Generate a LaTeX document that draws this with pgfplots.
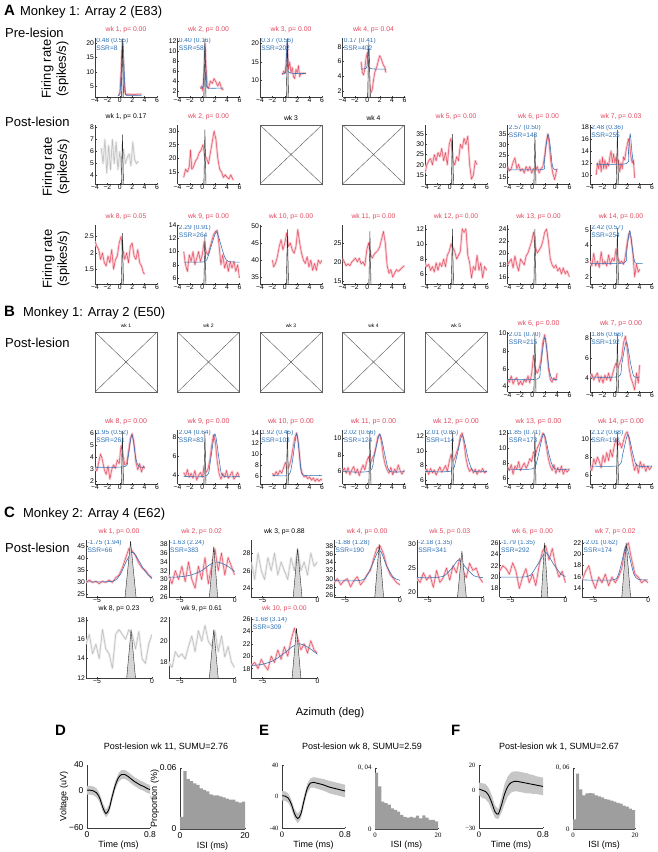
\documentclass[border=0pt]{standalone}
\usepackage{pgfplots}
\pgfplotsset{compat=1.18}
\usepackage{fontspec}
\setmainfont{Liberation Sans}
\newfontfamily\serifnum{Liberation Serif}
\definecolor{titlered}{RGB}{224,72,94}
\definecolor{linered}{RGB}{226,78,98}
\definecolor{bandred}{RGB}{250,206,212}
\definecolor{fitblue}{RGB}{44,112,182}
\definecolor{gline}{RGB}{186,186,186}
\definecolor{gband}{RGB}{236,236,236}
\definecolor{histgray}{RGB}{158,158,158}
\definecolor{boxgray}{RGB}{95,95,95}
\definecolor{axgray}{RGB}{60,60,60}
\newcommand{\tf}{\fontsize{6.8}{7}\selectfont}
\newcommand{\tfb}{\fontsize{5}{5}\selectfont}
\newcommand{\tft}{\fontsize{7}{7}\selectfont}
\newcommand{\ff}{\fontsize{6.6}{7.2}\selectfont}
\newcommand{\Rl}[1]{\addplot[draw=bandred,line width=2.4pt,line join=round] coordinates {#1};\addplot[draw=linered,line width=0.5pt,line join=round] coordinates {#1};}
\newcommand{\Gl}[1]{\addplot[draw=gband,line width=2.4pt,line join=round] coordinates {#1};\addplot[draw=gline,line width=0.5pt,line join=round] coordinates {#1};}
\newcommand{\Bf}[1]{\addplot[draw=fitblue,line width=0.55pt,smooth,tension=0.45] coordinates {#1};}
\newcommand{\Mk}[1]{\addplot[draw=black!85,fill=black!16,line width=0.4pt] coordinates {#1};}
\newcommand{\Fn}[2]{\node[anchor=north west,inner sep=0pt,font=\ff,text=fitblue,align=left] at (rel axis cs:0.02,1.0) {#1\\SSR=#2};}
\pgfplotsset{
 fr/.style={scale only axis, anchor=north west, axis lines*=left,
  axis line style={-,axgray,line width=0.4pt}, tick style={axgray,line width=0.35pt},
  major tick length=1.5pt, tick align=inside,
  every tick label/.append style={font=\tf, inner sep=0.8pt},
  /pgf/number format/assume math mode=true, scaled ticks=false,
  title style={font=\tf, at={(0.5,1)}, anchor=south, yshift=-1.5pt, inner sep=0pt}},
 aax/.style={fr, width=62pt, height=59pt, xmin=-4, xmax=6, xtick={-4,-2,0,2,4,6}, xticklabels={−4,−2,0,2,4,6}},
 bax/.style={aax, height=#1, title style={font=\tft}},
 cax/.style={fr, width=66pt, xmin=-6, xmax=0, xtick={-5,0}, xticklabels={−5,0}},
 sig/.style={title style={text=titlered}},
 wav/.style={scale only axis, anchor=north west, axis lines*=left, axis line style={-,axgray,line width=0.4pt},
  tick style={axgray,line width=0.35pt}, major tick length=1.5pt, tick align=inside,
  /pgf/number format/assume math mode=true, scaled ticks=false,
  label style={font=\fontsize{9}{9}\selectfont}, xlabel style={yshift=3pt}},
}
\newcommand{\Xb}[5]{\begin{axis}[scale only axis, anchor=north west, at={(#1pt,-#2pt)}, width=62pt, height=#3pt, xmin=0,xmax=1,ymin=0,ymax=1, ticks=none, axis line style={boxgray,line width=0.5pt}, title={#4}, title style={font=#5, at={(0.5,1)}, anchor=south, yshift=-1.5pt, inner sep=0pt}]
\addplot[boxgray,line width=0.45pt] coordinates {(0,0)(1,1)};
\addplot[boxgray,line width=0.45pt] coordinates {(0,1)(1,0)};
\end{axis}}
\newcommand{\FR}[2]{\node[rotate=90,align=center,font=\fontsize{13}{15}\selectfont,inner sep=0pt] at (#1pt,-#2pt) {Firing rate\\(spikes/s)};}
\begin{document}
\begin{tikzpicture}
\useasboundingbox (0,0) rectangle (658pt,-852pt);
% ---------- headings ----------
\node[anchor=west,inner sep=0pt] at (4pt,-12pt) {\fontsize{15}{15}\selectfont\bfseries A\hspace{5pt}\mdseries\fontsize{13}{13}\selectfont Monkey 1: Array 2 (E83)};
\node[anchor=west,inner sep=0pt,font=\fontsize{13}{13}\selectfont] at (5pt,-33pt) {Pre-lesion};
\FR{55}{69}
\node[anchor=west,inner sep=0pt,font=\fontsize{13}{13}\selectfont] at (5pt,-122pt) {Post-lesion};
\FR{56}{167}
\FR{56}{259}
\node[anchor=west,inner sep=0pt] at (4pt,-313pt) {\fontsize{15}{15}\selectfont\bfseries B\hspace{8pt}\mdseries\fontsize{13}{13}\selectfont Monkey 1: Array 2 (E50)};
\node[anchor=west,inner sep=0pt,font=\fontsize{13}{13}\selectfont] at (5pt,-343pt) {Post-lesion};
\node[anchor=west,inner sep=0pt] at (4pt,-514pt) {\fontsize{15}{15}\selectfont\bfseries C\hspace{8pt}\mdseries\fontsize{13}{13}\selectfont Monkey 2: Array 4 (E62)};
\node[anchor=west,inner sep=0pt,font=\fontsize{13}{13}\selectfont] at (5pt,-548pt) {Post-lesion};
% ================= A row 1 (pre-lesion) =================
\begin{axis}[aax, sig, at={(95pt,-38pt)}, ymin=1.2, ymax=21.7, ytick={5,10,15,20}, title={wk 1, p= 0.00}]
\Rl{(-0.2,2)(0,2.5)(0.2,10)(0.4,20)(0.6,12)(0.8,3)(1.0,2)(1.5,2.2)(2,2)(2.5,2.1)(3,2.2)(3.5,2.2)}
\Bf{(-0.3,1.8)(0,2)(0.2,8)(0.35,17)(0.48,20.5)(0.6,17)(0.75,8)(0.9,3)(1.1,1.8)(3.5,1.8)}
\Mk{(0.25,1.2)(0.42,21.5)(0.6,1.2)}
\Fn{0.48 (0.55)}{8}
\end{axis}
\begin{axis}[aax, sig, at={(177.5pt,-38pt)}, ymin=0.8, ymax=12.6, ytick={2,4,6,8,10,12}, title={wk 2, p= 0.00}]
\Rl{(-0.3,2.5)(-0.1,3)(0.1,2)(0.3,6)(0.45,11.5)(0.6,7)(0.8,3)(1.0,2.5)(1.3,4)(1.6,3.5)(1.9,4.5)(2.2,3.8)(2.5,3)(2.8,3.8)(3.1,2.5)(3.4,2.2)}
\Bf{(-0.3,2.6)(0.1,2.8)(0.25,6)(0.4,11)(0.55,7)(0.7,3.5)(0.9,2.6)(3.4,2.6)}
\Mk{(0.25,0.8)(0.42,12.4)(0.6,0.8)}
\Fn{0.40 (0.16)}{58}
\end{axis}
\begin{axis}[aax, sig, at={(260pt,-38pt)}, ymin=5.5, ymax=21.5, ytick={10,15,20}, title={wk 3, p= 0.00}]
\Rl{(-0.4,11.5)(-0.2,12.5)(0,12)(0.2,14)(0.4,20)(0.6,13)(0.8,15)(1,12)(1.2,13.5)(1.4,11)(1.6,10.5)(1.8,13)(2,12)(2.2,14)(2.4,11)(2.6,12)(2.8,11.8)(3,12)(3.2,12)(3.4,11.8)}
\Bf{(-0.4,11.9)(0.1,12)(0.25,16)(0.37,20.5)(0.5,16)(0.65,12.2)(3.4,11.9)}
\Mk{(0.25,5.5)(0.42,21.4)(0.6,5.5)}
\Fn{0.37 (0.56)}{202}
\end{axis}
\begin{axis}[aax, sig, at={(342.5pt,-38pt)}, ymin=1.2, ymax=9.2, ytick={2,4,6,8}, title={wk 4, p= 0.04}]
\Rl{(-1,6)(-0.8,4.5)(-0.6,4.2)(-0.4,5)(-0.2,6.5)(0,7.2)(0.2,5)(0.4,2.5)(0.6,1.8)(0.8,2.2)(1,3.5)(1.2,4.5)(1.4,5)(1.6,5.5)(1.8,6.2)(2,6.8)(2.2,6.5)(2.4,6)(2.6,5.5)(2.8,5.3)(3,4.5)}
\Bf{(-1,5)(-0.1,5.2)(0.05,7)(0.17,8)(0.3,6.5)(0.45,5.1)(3,5)}
\Mk{(0.05,1.2)(0.25,8.6)(0.5,1.2)}
\Fn{0.17 (0.41)}{402}
\end{axis}
% ================= A row 2 =================
\begin{axis}[aax, at={(95pt,-125pt)}, ymin=3.3, ymax=8.2, ytick={4,5,6,7,8}, title={wk 1, p= 0.17}]
\Gl{(-3,6.3)(-2.7,5)(-2.4,7)(-2.1,4.2)(-1.8,6.5)(-1.5,4.5)(-1.2,7)(-0.9,5)(-0.6,6.8)(-0.3,4.5)(0,6)(0.3,4.3)(0.6,6.2)(0.9,5)(1.2,5.5)(1.5,5.8)(1.8,4.8)(2.1,6.8)(2.4,5.3)(2.7,5)(3,5.2)}
\Mk{(0.25,3.3)(0.42,7.4)(0.6,3.3)}
\end{axis}
\begin{axis}[aax, sig, at={(177.5pt,-125pt)}, ymin=10.6, ymax=32.2, ytick={15,20,25,30}, title={wk 2, p= 0.00}]
\Rl{(-3,13)(-2.7,16)(-2.4,15)(-2.1,17)(-1.9,23)(-1.7,16)(-1.4,17)(-1.1,19)(-0.8,20)(-0.5,22)(-0.2,23)(0.1,25)(0.4,21)(0.7,20)(1.0,18)(1.3,22)(1.6,26)(1.9,30)(2.2,27)(2.5,20)(2.8,16)(3.1,15)(3.4,13)(3.7,14)(4,13)(4.3,12.5)(4.6,14)(5,12)}
\Mk{(0.25,10.6)(0.42,30.5)(0.6,10.6)}
\end{axis}
\Xb{260}{125}{59}{wk 3}{\tf}
\Xb{342.5}{125}{59}{wk 4}{\tf}
\begin{axis}[aax, sig, at={(425pt,-125pt)}, ymin=10.6, ymax=39.5, ytick={15,20,25,30,35}, title={wk 5, p= 0.00}]
\Rl{(-4,16)(-3.7,20)(-3.4,22)(-3.1,23)(-2.8,20)(-2.5,25)(-2.2,22)(-1.9,26)(-1.6,24)(-1.3,28)(-1,22)(-0.7,26)(-0.4,20)(-0.1,30)(0.2,33)(0.5,22)(0.8,20)(1.1,24)(1.4,22)(1.7,30)(2,28)(2.3,33)(2.6,30)(2.9,34)(3.2,20)(3.5,13)(3.8,15)(4.1,22)(4.4,20)}
\Mk{(0.25,10.6)(0.42,35)(0.6,10.6)}
\end{axis}
\begin{axis}[aax, sig, at={(507.5pt,-125pt)}, ymin=12, ymax=39, ytick={15,20,25,30,35}, title={wk 6, p= 0.00}]
\Rl{(-4,20)(-3.7,18)(-3.4,19)(-3.1,22)(-2.8,24)(-2.5,19)(-2.2,21)(-1.9,18)(-1.6,19)(-1.3,17)(-1,20)(-0.7,18)(-0.4,20)(-0.1,17)(0.2,19)(0.5,18)(0.8,20)(1.1,17)(1.4,19)(1.7,20)(2,25)(2.3,32)(2.5,35)(2.7,31)(3,22)(3.3,17)(3.6,14)(3.9,18)(4,19)}
\Bf{(-4,18.5)(1.6,18.6)(1.9,21)(2.2,29)(2.57,34.5)(2.9,29)(3.2,21)(3.5,18.8)(4,18.5)}
\Mk{(0.25,12)(0.42,35)(0.6,12)}
\Fn{2.57 (0.50)}{148}
\end{axis}
\begin{axis}[aax, sig, at={(590pt,-125pt)}, ymin=8.5, ymax=18.3, ytick={10,12,14,16,18}, title={wk 7, p= 0.03}]
\Rl{(-3,10)(-2.8,12)(-2.6,11)(-2.4,12.5)(-2.2,10.5)(-2,13)(-1.8,11)(-1.6,12.5)(-1.4,11)(-1.2,12)(-1,11.5)(-0.8,13)(-0.6,14)(-0.4,12)(-0.2,13.5)(0,12)(0.2,13)(0.4,11)(0.6,12.5)(0.8,10.5)(1,12)(1.2,11)(1.4,13)(1.6,12.5)(1.8,14)(2,15)(2.2,16)(2.4,15)(2.6,13)(2.8,12)(3,12.5)(3.2,9.5)}
\Bf{(-3,11.8)(1.9,11.9)(2.2,14)(2.48,16.8)(2.75,14)(3,12)(3.2,11.8)}
\Mk{(0.25,8.5)(0.42,17.5)(0.6,8.5)}
\Fn{2.48 (0.36)}{255}
\end{axis}
% ================= A row 3 =================
\begin{axis}[aax, sig, at={(95pt,-225pt)}, ymin=1.05, ymax=2.85, ytick={1.5,2,2.5}, title={wk 8, p= 0.05}]
\Rl{(-4,2.35)(-3.7,2.2)(-3.4,2.1)(-3.1,1.8)(-2.8,2)(-2.5,1.7)(-2.2,1.6)(-1.9,1.9)(-1.6,1.7)(-1.3,2.1)(-1,1.5)(-0.7,1.8)(-0.4,1.9)(-0.1,2.3)(0.2,2.5)(0.5,2.1)(0.8,1.8)(1.1,2)(1.4,1.7)(1.7,2.2)(2,2.3)(2.3,1.9)(2.6,1.8)(2.9,2.1)(3.2,1.7)(3.5,1.6)(3.8,1.4)(4,1.35)}
\Mk{(0.25,1.05)(0.42,2.6)(0.6,1.05)}
\end{axis}
\begin{axis}[aax, sig, at={(177.5pt,-225pt)}, ymin=5.1, ymax=14, ytick={6,8,10,12,14}, title={wk 9, p= 0.00}]
\Rl{(-3,10)(-2.7,8)(-2.4,7)(-2.1,9.5)(-1.8,8.5)(-1.5,10)(-1.2,8)(-0.9,9)(-0.6,10)(-0.3,8.5)(0,9.5)(0.3,11.5)(0.6,10)(0.9,9.5)(1.2,10.5)(1.5,11.5)(1.8,12.5)(2.1,13)(2.4,13.2)(2.7,11)(3,8)(3.3,9.5)(3.6,7.5)(3.9,8.5)(4.2,7)(4.5,8.5)(4.8,7.5)(5.1,8.5)(5.4,7)(5.7,8)(6,6)}
\Bf{(-3,8.4)(0.3,8.45)(0.9,9.2)(1.5,11)(2.29,13)(3.0,11)(3.6,9.2)(4.2,8.5)(6,8.4)}
\Mk{(0.25,5.1)(0.42,12.5)(0.6,5.1)}
\Fn{2.29 (0.91)}{264}
\end{axis}
\begin{axis}[aax, sig, at={(260pt,-225pt)}, ymin=33, ymax=50.3, ytick={35,40,45,50}, title={wk 10, p= 0.00}]
\Rl{(-2,40)(-1.8,38)(-1.5,39)(-1.2,41)(-0.9,44)(-0.6,46)(-0.3,43)(0,45)(0.3,48)(0.6,44)(0.9,45)(1.2,43)(1.5,42)(1.8,44)(2.1,49)(2.4,45)(2.7,42)(3,40)(3.3,39)(3.6,41)(3.9,38)(4.2,40)(4.5,37)(4.8,39)(5.1,37)(5.4,40)(5.7,39)(6,40)}
\Mk{(0.25,33)(0.42,49)(0.6,33)}
\end{axis}
\begin{axis}[aax, sig, at={(342.5pt,-225pt)}, ymin=14.2, ymax=29.7, ytick={15,20,25}, title={wk 11, p= 0.00}]
\Rl{(-4,21)(-3.7,20)(-3.4,19)(-3.1,19.5)(-2.8,19)(-2.5,20)(-2.2,20.5)(-1.9,21)(-1.6,20)(-1.3,21)(-1,19.5)(-0.7,20)(-0.4,19)(-0.1,23)(0.2,25)(0.5,22)(0.8,21)(1.1,22)(1.4,22.5)(1.7,23)(2,24)(2.3,26)(2.6,28)(2.9,25)(3.2,19)(3.5,17)(3.8,18)(4.1,16)(4.4,17)(4.7,18)(5,17.5)(5.3,18)(5.6,18.5)(6,19)}
\Mk{(0.25,14.2)(0.42,28)(0.6,14.2)}
\end{axis}
\begin{axis}[aax, sig, at={(425pt,-225pt)}, ymin=4.7, ymax=12.5, ytick={6,8,10,12}, title={wk 12, p= 0.00}]
\Rl{(-4,7.5)(-3.7,7)(-3.4,7.3)(-3.1,6.5)(-2.8,7)(-2.5,6.3)(-2.2,7.5)(-1.9,6.5)(-1.6,7.5)(-1.3,7)(-1,8)(-0.7,7)(-0.4,8.5)(-0.1,9)(0.2,10)(0.5,9.5)(0.8,9)(1.1,8)(1.4,8.5)(1.7,9)(2,12)(2.3,11.5)(2.6,12)(2.9,8.5)(3.2,7.5)(3.5,5.5)(3.8,7)(4.1,6.5)(4.4,8.5)(4.7,6.5)(5,7.5)(5.3,5.5)(5.6,7)(6,6.5)}
\Mk{(0.25,4.7)(0.42,12)(0.6,4.7)}
\end{axis}
\begin{axis}[aax, sig, at={(507.5pt,-225pt)}, ymin=14.8, ymax=24.7, ytick={16,18,20,22,24}, title={wk 13, p= 0.00}]
\Rl{(-4,18)(-3.7,18.5)(-3.4,19)(-3.1,17.5)(-2.8,19.5)(-2.5,18)(-2.2,17)(-1.9,19)(-1.6,18.5)(-1.3,18)(-1,19.5)(-0.7,20)(-0.4,21)(-0.1,22)(0.2,23.5)(0.5,21)(0.8,20)(1.1,20.5)(1.4,21)(1.7,22)(2,23.5)(2.3,24)(2.6,22)(2.9,19)(3.2,18)(3.5,17.5)(3.8,18)(4.1,17)(4.4,17.5)(4.7,16.5)(5,17.5)(5.3,16.5)(5.6,17)(6,16)}
\Mk{(0.25,14.8)(0.42,24)(0.6,14.8)}
\end{axis}
\begin{axis}[aax, sig, at={(590pt,-225pt)}, ymin=1.55, ymax=5.3, ytick={2,3,4,5}, title={wk 14, p= 0.00}]
\Rl{(-4,3)(-3.7,2.7)(-3.4,3.5)(-3.1,2.7)(-2.8,3)(-2.5,2.6)(-2.2,3.6)(-1.9,2.8)(-1.6,3)(-1.3,2.7)(-1,3.4)(-0.7,2.8)(-0.4,3.2)(-0.1,3)(0.2,3.8)(0.5,3.2)(0.8,2.9)(1.1,3)(1.4,2.8)(1.7,3.3)(2,4.2)(2.3,4.8)(2.6,4.5)(2.9,3.6)(3.2,2)(3.5,2.8)(3.8,2.3)(4,2.5)}
\Bf{(-4,2.85)(1.5,2.9)(1.9,3.6)(2.42,4.95)(2.9,3.6)(3.3,2.9)(4.5,2.85)}
\Mk{(0.25,1.55)(0.42,5.1)(0.6,1.55)}
\Fn{2.42 (0.57)}{254}
\end{axis}
% ================= B row 1 =================
\Xb{95}{332}{60}{wk 1}{\tfb}
\Xb{177.5}{332}{60}{wk 2}{\tfb}
\Xb{260}{332}{60}{wk 3}{\tfb}
\Xb{342.5}{332}{60}{wk 4}{\tfb}
\Xb{425}{332}{60}{wk 5}{\tfb}
\begin{axis}[bax=60pt, sig, at={(507.5pt,-332pt)}, ymin=3.4, ymax=10.1, ytick={4,6,8,10}, title={wk 6, p= 0.00}]
\Rl{(-4,4.8)(-3.7,4.5)(-3.4,5.2)(-3.1,4.3)(-2.8,4.8)(-2.5,5)(-2.2,4.2)(-1.9,4.6)(-1.6,4.2)(-1.3,4.8)(-1,4.5)(-0.7,5.2)(-0.4,4.4)(-0.1,5.5)(0.2,7.5)(0.5,6)(0.8,5.5)(1.1,6)(1.4,7)(1.7,9)(2,9.8)(2.3,8.5)(2.6,6)(2.9,4.8)(3.2,4.5)(3.5,5)(3.8,4.7)(4,5.5)}
\Bf{(-4,4.8)(0.8,4.85)(1.3,6)(2.01,9.5)(2.7,6)(3.2,4.85)(4,4.8)}
\Mk{(0.25,3.4)(0.42,10)(0.6,3.4)}
\Fn{2.01 (0.70)}{215}
\end{axis}
\begin{axis}[bax=60pt, sig, at={(590pt,-332pt)}, ymin=2.6, ymax=8.6, ytick={4,6,8}, title={wk 7, p= 0.00}]
\Rl{(-4,4)(-3.7,4.4)(-3.4,3.8)(-3.1,4.2)(-2.8,4.5)(-2.5,3.6)(-2.2,4.2)(-1.9,3.5)(-1.6,4.3)(-1.3,3.8)(-1,4.5)(-0.7,3.7)(-0.4,4.3)(-0.1,5)(0.2,5.5)(0.5,5)(0.8,5.5)(1.1,6)(1.4,7.5)(1.7,8.2)(2,7)(2.3,5)(2.6,4)(2.9,3.5)(3.2,2.8)(3.5,4.5)(3.8,3.5)(4,5.3)}
\Bf{(-4,4.1)(0.6,4.15)(1.1,5.3)(1.86,7.6)(2.6,5.3)(3.1,4.15)(4,4.1)}
\Mk{(0.25,2.6)(0.42,8.4)(0.6,2.6)}
\Fn{1.86 (0.66)}{192}
\end{axis}
% ================= B row 2 =================
\begin{axis}[bax=54pt, sig, at={(95pt,-430pt)}, ymin=1.8, ymax=6.3, ytick={2,3,4,5,6}, title={wk 8, p= 0.00}]
\Rl{(-4,3.2)(-3.7,2.9)(-3.4,3.6)(-3.1,4.3)(-2.8,3.8)(-2.5,3)(-2.2,2.6)(-1.9,3.3)(-1.6,2.2)(-1.3,3)(-1,3.4)(-0.7,3.1)(-0.4,3.8)(-0.1,3.5)(0.2,5)(0.5,4.2)(0.8,3.4)(1.1,3.5)(1.4,4.5)(1.7,5.6)(2,6)(2.3,5.2)(2.6,3.6)(2.9,3)(3.2,3.5)(3.5,2.8)(3.8,3.3)(4,3.1)}
\Bf{(-4,3.2)(0.8,3.25)(1.3,3.9)(1.95,5.9)(2.6,3.9)(3.1,3.25)(4,3.2)}
\Mk{(0.25,1.8)(0.42,6.2)(0.6,1.8)}
\Fn{1.95 (0.52)}{261}
\end{axis}
\begin{axis}[bax=54pt, sig, at={(177.5pt,-430pt)}, ymin=3.1, ymax=8.7, ytick={4,6,8}, title={wk 9, p= 0.00}]
\Rl{(-3,4.3)(-2.7,3.9)(-2.4,4.6)(-2.1,3.8)(-1.8,4.2)(-1.5,3.7)(-1.2,4.5)(-0.9,3.5)(-0.6,4)(-0.3,4.3)(0,3.8)(0.3,5)(0.6,4.3)(0.9,4.6)(1.2,5.5)(1.5,7)(1.8,8.2)(2.1,7.5)(2.4,5.5)(2.7,4.2)(3,3.6)(3.3,4.2)(3.6,3.8)(3.9,4.5)(4.2,3.7)(4.5,4)(4.8,4.4)(5.1,3.6)(5.4,3.9)(5.7,4.3)(6,3.8)}
\Bf{(-3,3.9)(0.7,3.95)(1.3,5.5)(2.04,8.3)(2.75,5.5)(3.3,3.95)(6,3.9)}
\Mk{(0.25,3.1)(0.42,8.5)(0.6,3.1)}
\Fn{2.04 (0.64)}{83}
\end{axis}
\begin{axis}[bax=54pt, sig, at={(260pt,-430pt)}, ymin=4.5, ymax=14.5, ytick={6,8,10,12,14}, title={wk 10, p= 0.00}]
\Rl{(-2,6.5)(-1.7,6)(-1.4,6.8)(-1.1,6.2)(-0.8,7)(-0.5,6.5)(-0.2,7.5)(0.1,8.5)(0.4,7.2)(0.7,7.8)(1,9)(1.3,11)(1.6,13)(1.9,14)(2.2,12)(2.5,8)(2.8,6.5)(3.1,5.8)(3.4,6)(3.7,5.5)(4,5.8)(4.3,5.2)(4.6,5.6)(4.9,5)(5.2,5.5)(5.5,5)(5.8,5.4)(6,5.2)}
\Bf{(-2,6.1)(0.6,6.15)(1.2,8.5)(1.92,13.8)(2.5,8.5)(2.9,6.2)(6,6.1)}
\Mk{(0.25,4.5)(0.42,14.3)(0.6,4.5)}
\Fn{1.92 (0.45)}{103}
\end{axis}
\begin{axis}[bax=54pt, sig, at={(342.5pt,-430pt)}, ymin=4.5, ymax=11, ytick={6,8,10}, title={wk 11, p= 0.00}]
\Rl{(-4,6)(-3.7,6.4)(-3.4,5.8)(-3.1,6.5)(-2.8,5.6)(-2.5,6.2)(-2.2,6.6)(-1.9,5.8)(-1.6,6.3)(-1.3,5.5)(-1,6.2)(-0.7,6.8)(-0.4,6.2)(-0.1,7.2)(0.2,7.8)(0.5,7)(0.8,7.6)(1.1,8)(1.4,9)(1.7,10.2)(2,10.5)(2.3,9.5)(2.6,7.8)(2.9,6.8)(3.2,6.2)(3.5,5.8)(3.8,6.5)(4.1,5.6)(4.4,6.3)(4.7,5.9)(5,6.8)(5.3,6.1)(5.6,5.7)(6,6.2)}
\Bf{(-4,6)(0.4,6.05)(1.1,7.8)(2.02,10.5)(2.9,7.8)(3.6,6.05)(6,6)}
\Mk{(0.25,4.5)(0.42,10.8)(0.6,4.5)}
\Fn{2.02 (0.66)}{124}
\end{axis}
\begin{axis}[bax=54pt, sig, at={(425pt,-430pt)}, ymin=5.5, ymax=12.8, ytick={6,8,10,12}, title={wk 12, p= 0.00}]
\Rl{(-4,7)(-3.7,7.5)(-3.4,6.8)(-3.1,7.6)(-2.8,7)(-2.5,7.4)(-2.2,6.7)(-1.9,7.3)(-1.6,7.8)(-1.3,7.1)(-1,7.5)(-0.7,8)(-0.4,7.2)(-0.1,8.5)(0.2,9.5)(0.5,8.6)(0.8,9)(1.1,9.8)(1.4,10.5)(1.7,12)(2,12.4)(2.3,11)(2.6,9)(2.9,7.8)(3.2,7.2)(3.5,7.6)(3.8,7)(4.1,7.5)(4.4,6.8)(4.7,7.4)(5,7.1)(5.3,7.6)(5.6,7)(6,7.3)}
\Bf{(-4,7.2)(0.2,7.25)(1,8.8)(2.01,12.1)(3,8.8)(3.8,7.25)(6,7.2)}
\Mk{(0.25,5.5)(0.42,12.5)(0.6,5.5)}
\Fn{2.01 (0.85)}{114}
\end{axis}
\begin{axis}[bax=54pt, sig, at={(507.5pt,-430pt)}, ymin=5.2, ymax=12.4, ytick={6,8,10,12}, title={wk 13, p= 0.00}]
\Rl{(-4,7.5)(-3.7,7)(-3.4,7.8)(-3.1,6.5)(-2.8,7.6)(-2.5,7.2)(-2.2,8.2)(-1.9,7)(-1.6,7.5)(-1.3,8)(-1,7.3)(-0.7,7.8)(-0.4,8.6)(-0.1,8.2)(0.2,9.5)(0.5,9)(0.8,10)(1.1,10.5)(1.4,11.2)(1.7,12)(2,11.5)(2.3,10)(2.6,8.5)(2.9,7.6)(3.2,7)(3.5,7.8)(3.8,6.6)(4.1,7.4)(4.4,6.8)(4.7,7.6)(5,6.5)(5.3,7.2)(5.6,6.8)(6,7.2)}
\Bf{(-4,7.2)(0.1,7.25)(0.9,8.8)(1.85,11.9)(2.8,8.8)(3.6,7.25)(6,7.2)}
\Mk{(0.25,5.2)(0.42,12.2)(0.6,5.2)}
\Fn{1.85 (0.71)}{173}
\end{axis}
\begin{axis}[bax=54pt, sig, at={(590pt,-430pt)}, ymin=5, ymax=11, ytick={6,8,10}, title={wk 14, p= 0.00}]
\Rl{(-4,7)(-3.7,6.5)(-3.4,7.8)(-3.1,7.2)(-2.8,8)(-2.5,7.5)(-2.2,6.8)(-1.9,8.2)(-1.6,7.4)(-1.3,8.5)(-1,7.6)(-0.7,8.8)(-0.4,8)(-0.1,9.2)(0.2,10)(0.5,9.3)(0.8,9.6)(1.1,9)(1.4,9.8)(1.7,10.5)(2,10.8)(2.3,10)(2.6,8.6)(2.9,7.5)(3.2,6.5)(3.5,7.2)(3.8,6.2)(4.1,7.5)(4.4,6.8)(4.7,7.2)(5,6.4)(5.3,7)(5.6,6.6)(6,7)}
\Bf{(-4,7)(0.6,7.05)(1.3,8.4)(2.12,10.5)(2.9,8.4)(3.6,7.05)(6,7)}
\Mk{(0.25,5)(0.42,10.8)(0.6,5)}
\Fn{2.12 (0.68)}{193}
\end{axis}
% ================= C row 1 =================
\begin{axis}[cax, sig, height=57pt, at={(86pt,-540pt)}, ymin=24, ymax=47.5, ytick={25,30,35,40,45}, title={wk 1, p= 0.00}]
\Rl{(-6,30)(-5.7,31)(-5.4,30)(-5.1,30.5)(-4.8,29.5)(-4.5,30.5)(-4.2,30)(-3.9,31)(-3.6,30)(-3.3,32)(-3,33)(-2.7,36)(-2.4,40)(-2.1,44)(-1.8,43)(-1.5,41)(-1.2,38)(-0.9,36)(-0.6,35)(-0.3,33)(0,32)}
\Bf{(-6,30.2)(-4,30.3)(-3.3,31)(-2.8,34)(-2.3,39)(-1.75,42.5)(-1.2,39)(-0.7,35)(-0.3,33)(0,31.5)}
\Mk{(-2.45,24)(-1.95,47)(-1.45,24)}
\Fn{-1.75 (1.94)}{66}
\end{axis}
\begin{axis}[cax, sig, height=57pt, at={(168.7pt,-540pt)}, ymin=26, ymax=39, ytick={26,28,30,32,34,36,38}, title={wk 2, p= 0.02}]
\Rl{(-6,31)(-5.7,29)(-5.4,32)(-5.1,30)(-4.8,33)(-4.5,29.5)(-4.2,34)(-3.9,30)(-3.6,28)(-3.3,33)(-3,30)(-2.7,35)(-2.4,29)(-2.1,33)(-1.8,37)(-1.5,32)(-1.2,36)(-0.9,31)(-0.6,35)(-0.3,33)(0,31)}
\Bf{(-6,30.5)(-5,30.6)(-4,31)(-3,32)(-2.3,33.3)(-1.63,34)(-1,33.5)(-0.5,32.8)(0,31.8)}
\Mk{(-2.3,26)(-1.9,37.5)(-1.55,26)}
\Fn{-1.63 (2.24)}{383}
\end{axis}
\begin{axis}[cax, height=57pt, at={(251.4pt,-540pt)}, ymin=23, ymax=29.5, ytick={24,26,28}, title={wk 3, p= 0.88}]
\Gl{(-6,27)(-5.7,25)(-5.4,28)(-5.1,26)(-4.8,25)(-4.5,27.5)(-4.2,26)(-3.9,28)(-3.6,25.5)(-3.3,27)(-3,26)(-2.7,25)(-2.4,27.5)(-2.1,26)(-1.8,28.5)(-1.5,26)(-1.2,27)(-0.9,25.5)(-0.6,28)(-0.3,26.5)(0,27)}
\Mk{(-2.2,23)(-1.8,28.5)(-1.4,23)}
\end{axis}
\begin{axis}[cax, sig, height=57pt, at={(334.1pt,-540pt)}, ymin=25.5, ymax=39.5, ytick={26,28,30,32,34,36,38}, title={wk 4, p= 0.00}]
\Rl{(-6,29)(-5.7,30)(-5.4,28.5)(-5.1,29.5)(-4.8,30)(-4.5,28)(-4.2,29.5)(-3.9,30.5)(-3.6,28.5)(-3.3,29.5)(-3,31)(-2.7,32)(-2.4,35)(-2.1,37.5)(-1.8,38)(-1.5,36)(-1.2,33)(-0.9,31)(-0.6,30)(-0.3,29)(0,28.5)}
\Bf{(-6,29.5)(-4,29.5)(-3.2,30)(-2.6,33)(-1.88,37)(-1.2,33)(-0.6,30.3)(0,29.6)}
\Mk{(-2.3,25.5)(-1.9,38.5)(-1.5,25.5)}
\Fn{-1.88 (1.28)}{190}
\end{axis}
\begin{axis}[cax, sig, height=57pt, at={(416.8pt,-540pt)}, ymin=19, ymax=30.8, ytick={20,25,30}, title={wk 5, p= 0.03}]
\Rl{(-6,23)(-5.7,22)(-5.4,24)(-5.1,22.5)(-4.8,23.5)(-4.5,21)(-4.2,24.5)(-3.9,22)(-3.6,23)(-3.3,25)(-3,22.5)(-2.7,25.5)(-2.4,24)(-2.1,27)(-1.8,24.5)(-1.5,23)(-1.2,26)(-0.9,24.5)(-0.6,25)(-0.3,23)(0,22)}
\Bf{(-6,23)(-4.5,23)(-3.5,23.4)(-2.8,25)(-2.18,26.7)(-1.5,25)(-0.8,23.4)(0,23)}
\Mk{(-2.3,19)(-1.9,28.5)(-1.5,19)}
\Fn{-2.18 (1.35)}{341}
\end{axis}
\begin{axis}[cax, sig, height=57pt, at={(499.5pt,-540pt)}, ymin=16.5, ymax=26.5, ytick={18,20,22,24,26}, title={wk 6, p= 0.00}]
\Rl{(-6,21)(-5.7,22)(-5.4,21.5)(-5.1,20.5)(-4.8,22.5)(-4.5,21)(-4.2,18)(-3.9,20)(-3.6,21.5)(-3.3,19)(-3,20.5)(-2.7,18.5)(-2.4,22)(-2.1,24.5)(-1.8,25.5)(-1.5,23)(-1.2,25)(-0.9,22)(-0.6,20)(-0.3,21)(0,19)}
\Bf{(-6,20)(-4,20)(-3.2,20.3)(-2.5,22.3)(-1.79,24.3)(-1.1,22.3)(-0.4,20.5)(0,20.1)}
\Mk{(-2.2,16.5)(-1.9,26)(-1.6,16.5)}
\Fn{-1.79 (1.35)}{292}
\end{axis}
\begin{axis}[cax, sig, height=57pt, at={(582.2pt,-540pt)}, ymin=12.5, ymax=22.5, ytick={14,16,18,20,22}, title={wk 7, p= 0.02}]
\Rl{(-6,15.5)(-5.7,17)(-5.4,18)(-5.1,15.5)(-4.8,14)(-4.5,16)(-4.2,15)(-3.9,16.5)(-3.6,14.5)(-3.3,16)(-3,15)(-2.7,16)(-2.4,17.5)(-2.1,21)(-1.8,22)(-1.5,19)(-1.2,16.5)(-0.9,16)(-0.6,15)(-0.3,15.5)(0,15)}
\Bf{(-6,15.5)(-3.2,15.5)(-2.7,16.5)(-2.3,19.5)(-2.01,21.5)(-1.7,19.5)(-1.3,16.5)(-0.9,15.6)(0,15.5)}
\Mk{(-2.4,12.5)(-2,22)(-1.6,12.5)}
\Fn{-2.01 (0.62)}{174}
\end{axis}
% ================= C row 2 =================
\begin{axis}[cax, height=61pt, at={(86pt,-617pt)}, ymin=12, ymax=18.3, ytick={12,14,16,18}, title={wk 8, p= 0.23}]
\Gl{(-6,15.5)(-5.7,16.5)(-5.4,14.5)(-5.1,15.5)(-4.8,14)(-4.5,17)(-4.2,15)(-3.9,14.5)(-3.6,13)(-3.3,16.5)(-3,17)(-2.7,16.5)(-2.4,16)(-2.1,17)(-1.8,16.5)(-1.5,15)(-1.2,16.8)(-0.9,14)(-0.6,13.5)(-0.3,15.5)(0,16.5)}
\Mk{(-2.3,12)(-1.9,17)(-1.5,12)}
\end{axis}
\begin{axis}[cax, height=61pt, at={(168.7pt,-617pt)}, ymin=16.5, ymax=22.3, ytick={18,20,22}, title={wk 9, p= 0.61}]
\Gl{(-6,18)(-5.7,17.5)(-5.4,19)(-5.1,18.5)(-4.8,18.8)(-4.5,18.3)(-4.2,19.5)(-3.9,20.5)(-3.6,19)(-3.3,21)(-3,20)(-2.7,21.5)(-2.4,20)(-2.1,19.5)(-1.8,21)(-1.5,19)(-1.2,20.5)(-0.9,18.5)(-0.6,19.5)(-0.3,18)(0,17.5)}
\Mk{(-2.3,16.5)(-1.9,21.1)(-1.5,16.5)}
\end{axis}
\begin{axis}[cax, sig, height=61pt, at={(251.4pt,-617pt)}, ymin=16.5, ymax=26.3, ytick={18,20,22,24,26}, title={wk 10, p= 0.00}]
\Rl{(-6,18.5)(-5.7,19)(-5.4,18)(-5.1,19.5)(-4.8,18.5)(-4.5,17.8)(-4.2,20)(-3.9,19)(-3.6,21)(-3.3,19.5)(-3,21.5)(-2.7,20)(-2.4,22.5)(-2.1,24.5)(-1.8,23)(-1.5,21)(-1.2,22)(-0.9,20.5)(-0.6,22.5)(-0.3,21)(0,20.5)}
\Bf{(-6,18.5)(-5,18.7)(-4,19.3)(-3,20.5)(-2.3,21.5)(-1.68,22)(-1,21.6)(-0.5,21)(0,20.3)}
\Mk{(-2.3,16.5)(-1.9,24.5)(-1.5,16.5)}
\Fn{-1.68 (3.14)}{309}
\end{axis}
% ================= D E F =================
\node[font=\fontsize{11}{11}\selectfont] at (330pt,-713pt) {Azimuth (deg)};
\node[anchor=west,inner sep=0pt,font=\fontsize{15}{15}\selectfont\bfseries] at (55pt,-730pt) {D};
\node[anchor=west,inner sep=0pt,font=\fontsize{15}{15}\selectfont\bfseries] at (259pt,-730pt) {E};
\node[anchor=west,inner sep=0pt,font=\fontsize{15}{15}\selectfont\bfseries] at (451pt,-730pt) {F};
\node[font=\fontsize{9}{9}\selectfont] at (166pt,-747pt) {Post-lesion wk 11, SUMU=2.76};
\node[font=\fontsize{9}{9}\selectfont] at (362pt,-747pt) {Post-lesion wk 8, SUMU=2.59};
\node[font=\fontsize{9}{9}\selectfont] at (559pt,-747pt) {Post-lesion wk 1, SUMU=2.67};
\begin{axis}[wav, at={(87pt,-765pt)}, width=63pt, height=63pt, xmin=0, xmax=0.8, ymin=-60, ymax=40, xtick={0,0.8}, ytick={-60,0,40}, yticklabels={−60,0,40}, every tick label/.append style={font=\fontsize{8.5}{9}\selectfont}, xlabel={Time (ms)}, ylabel={Voltage (uV)}, ylabel style={yshift=-6pt}]
\addplot[fill=gray!45, draw=none] coordinates {(0,7)(.04,7)(.08,6)(.12,3)(.16,-5)(.2,-20)(.24,-31)(.28,-23)(.32,-3)(.36,15)(.4,27)(.44,32)(.48,32)(.52,29)(.56,25)(.6,21)(.64,18)(.68,15)(.72,13)(.76,10)(.8,8)(.8,-6)(.76,-4)(.72,-1)(.68,1)(.64,4)(.6,7)(.56,11)(.52,15)(.48,18)(.44,18)(.4,13)(.36,1)(.32,-17)(.28,-37)(.24,-43)(.2,-34)(.16,-19)(.12,-11)(.08,-8)(.04,-7)(0,-7)};
\addplot[black, line width=0.9pt, smooth] coordinates {(0,0)(.04,0)(.08,-1)(.12,-4)(.16,-12)(.2,-27)(.24,-37)(.28,-30)(.32,-10)(.36,8)(.4,20)(.44,25)(.48,25)(.52,22)(.56,18)(.6,14)(.64,11)(.68,8)(.72,6)(.76,3)(.8,1)};
\end{axis}
\begin{axis}[wav, at={(180pt,-768pt)}, width=65pt, height=61pt, xmin=0, xmax=20, ymin=0, ymax=0.06, xtick={0,20}, ytick={0,0.06}, yticklabels={0,0.06}, every tick label/.append style={font=\fontsize{8.5}{9}\selectfont}, xlabel={ISI (ms)}, ylabel={Proportion (\%)}, ylabel style={yshift=-6pt}]
\addplot[ybar interval, fill=histgray, draw=none] coordinates {(0,0.012)(1,0.057)(2,0.049)(3,0.047)(4,0.045)(5,0.0435)(6,0.040)(7,0.0385)(8,0.037)(9,0.034)(10,0.033)(11,0.033)(12,0.032)(13,0.031)(14,0.030)(15,0.029)(16,0.029)(17,0.027)(18,0.026)(19,0.027)(20,0.027)};
\end{axis}
\begin{axis}[wav, at={(282pt,-765pt)}, width=63pt, height=63pt, xmin=0, xmax=0.8, ymin=-40, ymax=40, xtick={0,0.8}, xticklabels={\serifnum 0,0.8}, ytick={-40,0,40}, yticklabels={\serifnum -40,\serifnum 0,\serifnum 40}, yticklabel style={font=\fontsize{6.5}{7}\selectfont}, xticklabel style={font=\fontsize{8.5}{9}\selectfont}, xlabel={Time (ms)}]
\addplot[fill=gray!45, draw=none] coordinates {(0,7)(.04,6.5)(.08,4)(.12,-4)(.16,-16)(.2,-22)(.24,-16)(.28,1)(.32,16)(.36,23)(.4,24.5)(.44,24)(.48,23)(.52,22.5)(.56,21)(.6,20)(.64,19)(.68,18)(.72,17)(.76,16)(.8,15)(.8,-1)(.76,0)(.72,1)(.68,2)(.64,3)(.6,4)(.56,6)(.52,7.5)(.48,9)(.44,10)(.4,11.5)(.36,11)(.32,4)(.28,-11)(.24,-28)(.2,-34)(.16,-28)(.12,-16)(.08,-8)(.04,-5.5)(0,-5)};
\addplot[black, line width=0.9pt, smooth] coordinates {(0,1)(.04,0.5)(.08,-2)(.12,-10)(.16,-22)(.2,-28)(.24,-22)(.28,-5)(.32,10)(.36,17)(.4,18)(.44,17)(.48,16)(.52,15)(.56,13.5)(.6,12)(.64,11)(.68,10)(.72,9)(.76,8)(.8,7)};
\end{axis}
\begin{axis}[wav, at={(375pt,-768pt)}, width=63pt, height=61pt, xmin=0, xmax=20, ymin=0, ymax=0.04, xtick={0,20}, xticklabels={\serifnum 0,\serifnum 20}, ytick={0,0.04}, yticklabels={\serifnum 0,{\serifnum 0, 04}}, every tick label/.append style={font=\fontsize{6.8}{7}\selectfont}, xlabel={ISI (ms)}]
\addplot[ybar interval, fill=histgray, draw=none] coordinates {(0,0.037)(1,0.028)(2,0.018)(3,0.017)(4,0.016)(5,0.0136)(6,0.0125)(7,0.0114)(8,0.0092)(9,0.008)(10,0.0075)(11,0.008)(12,0.0075)(13,0.0088)(14,0.007)(15,0.009)(16,0.0075)(17,0.006)(18,0.006)(19,0.005)(20,0.005)};
\end{axis}
\begin{axis}[wav, at={(479pt,-765pt)}, width=64pt, height=63pt, xmin=0, xmax=0.8, ymin=-30, ymax=20, xtick={0,0.8}, xticklabels={\serifnum 0,0.8}, ytick={-30,0,20}, yticklabels={\serifnum −30,\serifnum 0,\serifnum 20}, yticklabel style={font=\fontsize{6.5}{7}\selectfont}, xticklabel style={font=\fontsize{8.5}{9}\selectfont}, xlabel={Time (ms)}]
\addplot[fill=gray!45, draw=none] coordinates {(0,6)(.04,5.5)(.08,5)(.12,2)(.16,-4)(.2,-12)(.24,-15)(.28,-6)(.32,5)(.36,11)(.4,14)(.44,15)(.48,15)(.52,14.5)(.56,14)(.6,13.5)(.64,12.5)(.68,12)(.72,11)(.76,10.5)(.8,10)(.8,-4)(.76,-3.5)(.72,-3)(.68,-3)(.64,-2.5)(.6,-2.5)(.56,-2)(.52,-1.5)(.48,-1)(.44,-1)(.4,-2)(.36,-5)(.32,-11)(.28,-18)(.24,-23)(.2,-22)(.16,-16)(.12,-10)(.08,-7)(.04,-6)(0,-4)};
\addplot[black, line width=0.9pt, smooth] coordinates {(0,1)(.04,0)(.08,-1)(.12,-4)(.16,-10)(.2,-17)(.24,-19)(.28,-12)(.32,-3)(.36,3)(.4,6)(.44,7)(.48,7)(.52,6.5)(.56,6)(.6,5.5)(.64,5)(.68,4.5)(.72,4)(.76,3.5)(.8,3)};
\end{axis}
\begin{axis}[wav, at={(573pt,-768pt)}, width=62pt, height=61pt, xmin=0, xmax=20, ymin=0, ymax=0.06, xtick={0,20}, xticklabels={\serifnum 0,\serifnum 20}, ytick={0,0.06}, yticklabels={\serifnum 0,{\serifnum 0, 06}}, every tick label/.append style={font=\fontsize{6.8}{7}\selectfont}, xlabel={ISI (ms)}]
\addplot[ybar interval, fill=histgray, draw=none] coordinates {(0,0.0096)(1,0.0545)(2,0.039)(3,0.033)(4,0.035)(5,0.0353)(6,0.035)(7,0.033)(8,0.032)(9,0.031)(10,0.0295)(11,0.029)(12,0.028)(13,0.027)(14,0.0257)(15,0.025)(16,0.023)(17,0.022)(18,0.020)(19,0.0185)(20,0.0185)};
\end{axis}
\end{tikzpicture}
\end{document}
